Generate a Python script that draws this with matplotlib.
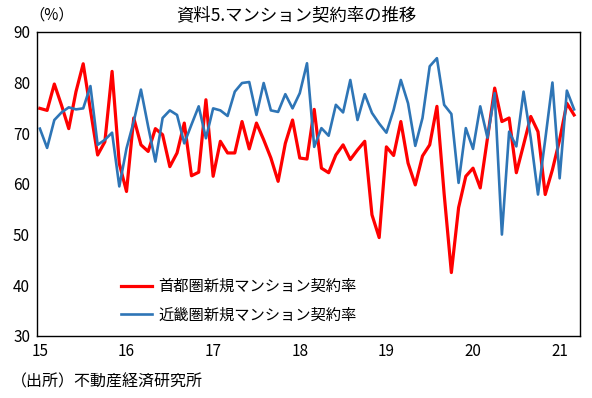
import numpy as np
import matplotlib.pyplot as plt

plt.rcParams['font.family'] = ['Noto Sans CJK JP', 'DejaVu Sans']

# 首都圏 (2015年1月〜2021年3月, 月次)
shutoken = [74.9, 74.5, 79.7, 75.5, 70.9, 78.2, 83.7, 74.6, 65.7, 68.3, 82.2, 64.0,
            58.5, 73.0, 67.7, 66.4, 70.9, 69.7, 63.4, 66.1, 72.0, 61.6, 62.3, 76.6,
            61.5, 68.4, 66.1, 66.1, 72.3, 66.9, 72.0, 68.7, 65.1, 60.5, 68.0, 72.6,
            65.1, 64.9, 74.7, 63.1, 62.2, 65.7, 67.7, 64.8, 66.7, 68.4, 53.9, 49.4,
            67.3, 65.6, 72.3, 64.1, 59.8, 65.5, 67.7, 75.3, 58.0, 42.5, 55.3, 61.5,
            63.1, 59.2, 69.0, 78.9, 72.3, 73.0, 62.2, 67.7, 73.3, 70.3, 57.9, 62.8,
            68.7, 75.9, 73.6]

# 近畿圏
kinki = [70.9, 67.1, 72.6, 74.1, 75.1, 74.7, 74.9, 79.3, 67.7, 68.7, 70.1, 59.5,
         67.0, 72.3, 78.6, 71.3, 64.4, 73.0, 74.5, 73.6, 68.0, 71.7, 75.3, 69.0,
         74.9, 74.5, 73.4, 78.2, 79.9, 80.1, 73.6, 79.9, 74.5, 74.2, 77.7, 74.9,
         77.9, 83.8, 67.3, 71.0, 69.5, 75.6, 74.1, 80.5, 72.6, 77.7, 74.0, 71.9,
         70.1, 74.6, 80.5, 75.9, 67.5, 73.0, 83.2, 84.8, 75.6, 73.8, 60.2, 71.0,
         66.9, 75.3, 69.1, 77.9, 50.0, 70.3, 67.4, 78.2, 69.0, 57.9, 68.7, 80.0,
         61.1, 78.4, 74.7]

years = ["15", "16", "17", "18", "19", "20", "21"]

t = np.arange(len(shutoken))

fig = plt.figure(figsize=(5.92, 3.98), dpi=100)
ax = fig.add_axes([0.0625, 0.156, 0.917, 0.764])

ax.plot(t, shutoken, color="#FF0000", lw=2.3, label="首都圏新規マンション契約率", zorder=2)
ax.plot(t, kinki, color="#2E75B6", lw=1.9, label="近畿圏新規マンション契約率", zorder=3)

ax.set_xlim(-0.4, 74.8)
ax.set_ylim(30, 90)
ax.set_xticks(np.arange(0, 73, 12))
ax.set_xticklabels(years)
ax.set_yticks(np.arange(30, 91, 10))
ax.tick_params(length=0, labelsize=11, pad=5)
for s in ax.spines.values():
    s.set_linewidth(1.0)

ax.legend(loc="lower left", bbox_to_anchor=(0.13, -0.005), frameon=False,
          fontsize=11, handlelength=2.0, handletextpad=0.4, labelspacing=0.75)

fig.text(0.5, 0.962, "資料5.マンション契約率の推移", ha="center", va="center", fontsize=12.5)
fig.text(0.05, 0.962, "（%）", ha="left", va="center", fontsize=11)
fig.text(0.018, 0.04, "（出所）不動産経済研究所", ha="left", va="center", fontsize=11.5)

fig.savefig("out.png")
